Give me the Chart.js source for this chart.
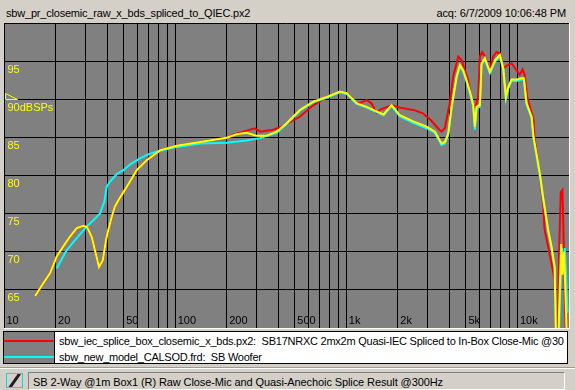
<!DOCTYPE html>
<html><head><meta charset="utf-8">
<script src="https://cdn.jsdelivr.net/npm/chart.js@4.4.1/dist/chart.umd.min.js"></script>
<style>
html,body{margin:0;padding:0;}
body{width:575px;height:390px;background:#d4d0c8;position:relative;overflow:hidden;font-family:"Liberation Sans",Arial,sans-serif;font-size:11px;color:#000;}
.t{position:absolute;white-space:nowrap;line-height:13px;}
#title{left:6px;top:7px;letter-spacing:-0.2px;}
#acq{right:9px;top:7px;letter-spacing:-0.1px;}
#plotwrap{position:absolute;left:4px;top:23px;width:565px;height:305px;border-right:1px solid #fff;border-bottom:1px solid #fff;}
#c{display:block;background:#808080;}
#legend{position:absolute;left:3px;top:331px;width:563px;height:31px;border:1px solid #000;background:#fff;overflow:hidden;}
#swatch{position:absolute;left:0;top:0;width:50px;height:31px;background:#808080;border-right:1px solid #000;}
.sw{position:absolute;left:0;width:50px;height:2px;}
#leg1{left:55px;top:3px;letter-spacing:-0.24px;}
#leg2{left:55px;top:19px;letter-spacing:-0.24px;}
#sep1{position:absolute;left:0;top:367px;width:575px;height:1px;background:#a09c94;}
#sep2{position:absolute;left:0;top:368px;width:575px;height:1px;background:#fff;}
#icon{position:absolute;left:6px;top:373px;width:15px;height:13px;border:1px solid #00e0e0;background:#d4d0c8;overflow:hidden;}
#icon div{position:absolute;left:6px;top:-2px;width:3px;height:18px;background:#202020;transform:rotate(35deg);}
#status{position:absolute;left:28px;top:372px;width:535px;height:16px;border-top:1px solid #808080;border-left:1px solid #808080;border-right:1px solid #fff;border-bottom:1px solid #fff;}
#stxt{left:33px;top:376px;letter-spacing:-0.1px;}
</style>
</head><body>
<div class="t" id="title">sbw_pr_closemic_raw_x_bds_spliced_to_QIEC.px2</div>
<div class="t" id="acq">acq: 6/7/2009 10:06:48 PM</div>
<div id="plotwrap"><canvas id="c" width="565" height="305" style="width:565px;height:305px"></canvas></div>
<div id="legend">
  <div id="swatch"><div class="sw" style="top:8px;background:#ff0000"></div><div class="sw" style="top:24px;background:#00ffff"></div></div>
  <div class="t" id="leg1">sbw_iec_splice_box_closemic_x_bds.px2:&nbsp; SB17NRXC 2mx2m Quasi-IEC Spliced to In-Box Close-Mic @30</div>
  <div class="t" id="leg2">sbw_new_model_CALSOD.frd:&nbsp; SB Woofer</div>
</div>
<div id="sep1"></div><div id="sep2"></div>
<div id="icon"><div></div></div>
<div id="status"></div>
<div class="t" id="stxt">SB 2-Way @1m Box1 (R) Raw Close-Mic and Quasi-Anechoic Splice Result @300Hz</div>
<script>
// ---- data ----
const yellowFreq = [15.2,17.0,18.6,20.3,22.2,24.3,26.6,29.1,30.6,32.5,34.0,35.9,37.8,39.4,40.2,42.6,44.4,47.6,52.1,59.6,68.2,81.5,102,140,200,228,262,299,340,392,448,535,641,768,918,1004,1148,1314,1503,1650,1839,2056,2460,2944,3292,3602,3764,3939,4121,4410,4610,4820,5043,5275,5515,5637,5766,6030,6166,6450,6900,7385,7893,8260,8556,8830,9240,9890,10580,10900,11300,12100,12400,12900,13500,14100,15100,15800,16500,16800,17300,17700,18000,18300,18700,19100,19500];
const yellowDb = [64.2,65.9,67.2,69.35,70.7,72.0,73.1,73.4,73.2,72.0,70.2,68.0,68.9,71.5,72.4,74.6,75.9,77.1,78.5,80.7,82.0,83.3,83.9,84.4,84.95,85.4,85.6,85.2,85.2,85.75,86.85,88.6,89.7,90.3,91.0,90.8,89.5,89.0,88.4,88.0,89.25,87.9,87.1,86.4,85.75,84.2,84.4,85.5,89.0,93.0,94.5,93.8,92.5,91.0,89.25,86.4,89.0,89.25,94.7,95.4,93.6,95.1,95.8,94.1,90.3,91.6,92.6,92.6,92.75,92.75,89.5,87.7,85.1,82.9,80.3,77.2,72.9,70.7,68.0,58,58,66,71.0,67.0,70.0,64,57];

const cyanFreq = [20.3,23.2,26.6,30.4,33.5,36.3,38.5,39.8,41.6,45.6,49.8,55,62.2,70,81.5,100,140,200,260,313,392,448,535,641,768,918,1004,1148,1314,1503,1650,1839,2056,2460,2944,3292,3602,3764,3939,4121,4410,4610,4820,5043,5275,5515,5637,5766,6030,6166,6450,6900,7385,7893,8260,8556,8830,9240,9890,10580,10900,11300,12100,12400,12900,13500,14100,15100,15800,16500,16800,17400,17800,18200,18600,18900,19300,19600];
const cyanDb = [67.8,70.2,71.8,73.3,74.2,75.0,76.5,78.5,79.2,80.2,80.7,81.5,82.25,82.8,83.25,83.7,84.2,84.3,84.6,84.9,85.6,86.75,88.5,89.6,90.2,90.9,90.7,89.4,88.9,88.3,87.9,89.1,87.75,86.9,86.2,85.6,84.0,84.2,85.3,88.8,92.8,94.3,93.6,92.3,90.8,89.0,86.0,88.8,89.0,94.5,95.2,93.4,94.9,95.6,93.9,90.0,91.4,92.4,92.4,92.6,92.6,89.3,87.5,84.9,82.7,80.0,77.0,72.7,70.5,67.8,58,58,65,70.5,67.5,70.5,66,62];

const redFreq = [15.2,17.0,18.6,20.3,22.2,24.3,26.6,29.1,30.6,32.5,34.0,35.9,37.8,39.4,40.2,42.6,44.4,47.6,52.1,59.6,68.2,81.5,102,140,200,218,250,292,313,374,419,535,641,768,918,1004,1148,1199,1314,1400,1503,1570,1839,2056,2460,2800,3103,3368,3602,3764,4022,4213,4510,4712,4928,5150,5385,5637,5895,6030,6210,6450,6900,7220,7550,7890,8260,8830,9240,9890,10300,10700,11000,11400,12400,12600,12900,13500,14100,14400,15100,16500,16800,17200,17500,17900,18300,18600,19000,19300];
const redDb = [64.2,65.9,67.2,69.35,70.7,72.0,73.1,73.4,73.2,72.0,70.2,68.0,68.9,71.5,72.4,74.6,75.9,77.1,78.5,80.7,82.0,83.3,83.9,84.4,84.95,85.4,85.75,86.2,85.75,86.0,86.4,87.7,89.2,90.3,91.0,90.8,89.5,89.5,89.9,89.5,88.2,88.6,89.25,88.9,88.6,88.15,87.3,86.4,85.75,86.2,89.5,93.0,95.6,95.1,93.8,92.5,89.9,88.8,90.3,95.6,96.2,95.6,93.8,95.6,96.2,96.0,94.1,94.5,94.7,93.8,93.2,93.9,93.2,90.3,87.3,84.65,83.3,79.8,76.4,72.9,70.7,66.3,58,58,70,77.8,78.1,72,62,57];

const yLabelValues = [95,90,85,80,75,70,65];
const yLabelTexts = ['95','90dBSPs','85','80','75','70','65'];
const xLabelValues = [10,20,50,100,200,500,1000,2000,5000,10000];
const xLabelTexts = ['10','20','50','100','200','500','1k','2k','5k','10k'];
const xGridValues = [10,20,30,40,50,60,70,80,90,100,200,300,400,500,600,700,800,900,1000,2000,3000,4000,5000,6000,7000,8000,9000,10000];
const refLevel = 90;

function pts(f, d){ return f.map((v,i)=>({x:v, y:d[i]})); }

const axisText = {
  id: 'axisText',
  beforeDatasetsDraw(chart){
    const {ctx, chartArea, scales} = chart;
    const x = scales.x, y = scales.y;
    ctx.save();
    ctx.font = '11px "Liberation Sans", Arial, sans-serif';
    ctx.textAlign = 'left';
    ctx.textBaseline = 'alphabetic';
    ctx.fillStyle = '#ffff00';
    yLabelValues.forEach((v,i)=>{
      const py = y.getPixelForValue(v);
      ctx.fillText(yLabelTexts[i], chartArea.left + 3.5, py + 11.5);
    });
    ctx.fillStyle = '#000';
    xLabelValues.forEach((v,i)=>{
      const px = x.getPixelForValue(v);
      ctx.fillText(xLabelTexts[i], px + 2.5, chartArea.bottom - 4);
    });
    // reference level marker
    const ry = Math.round(y.getPixelForValue(refLevel)) + 0.5;
    ctx.strokeStyle = '#ffff00';
    ctx.lineWidth = 1;
    ctx.beginPath();
    ctx.moveTo(chartArea.left + 1.5, ry - 6);
    ctx.lineTo(chartArea.left + 1.5, ry);
    ctx.lineTo(chartArea.left + 13.5, ry);
    ctx.closePath();
    ctx.stroke();
    ctx.restore();
  }
};

new Chart(document.getElementById('c'), {
  type: 'line',
  data: {
    datasets: [
      {label:'yellow', data: pts(yellowFreq, yellowDb), borderColor:'#ffff00', borderWidth:2, pointRadius:0, tension:0, fill:false},
      {label:'sbw_new_model_CALSOD.frd', data: pts(cyanFreq, cyanDb), borderColor:'#00ffff', borderWidth:2, pointRadius:0, tension:0, fill:false},
      {label:'sbw_iec_splice_box_closemic_x_bds.px2', data: pts(redFreq, redDb), borderColor:'#ff0000', borderWidth:2, pointRadius:0, tension:0, fill:false}
    ]
  },
  options: {
    responsive: false,
    devicePixelRatio: 1,
    animation: false,
    events: [],
    layout: {padding: 0},
    plugins: {legend:{display:false}, tooltip:{enabled:false}, title:{display:false}},
    scales: {
      x: {
        type: 'logarithmic', min: 10, max: 20000,
        afterBuildTicks: (s)=>{ s.ticks = xGridValues.map(v=>({value:v})); },
        ticks: {display:false},
        grid: {color:'#000', lineWidth:1, drawTicks:false},
        border: {display:false}
      },
      y: {
        type: 'linear', min: 60, max: 100,
        ticks: {display:false, stepSize:5},
        grid: {color: (c)=> (c.tick && c.tick.value === 60) ? 'rgba(0,0,0,0)' : '#000', lineWidth:1, drawTicks:false},
        border: {display:false}
      }
    }
  },
  plugins: [axisText]
});
</script>
</body></html>
